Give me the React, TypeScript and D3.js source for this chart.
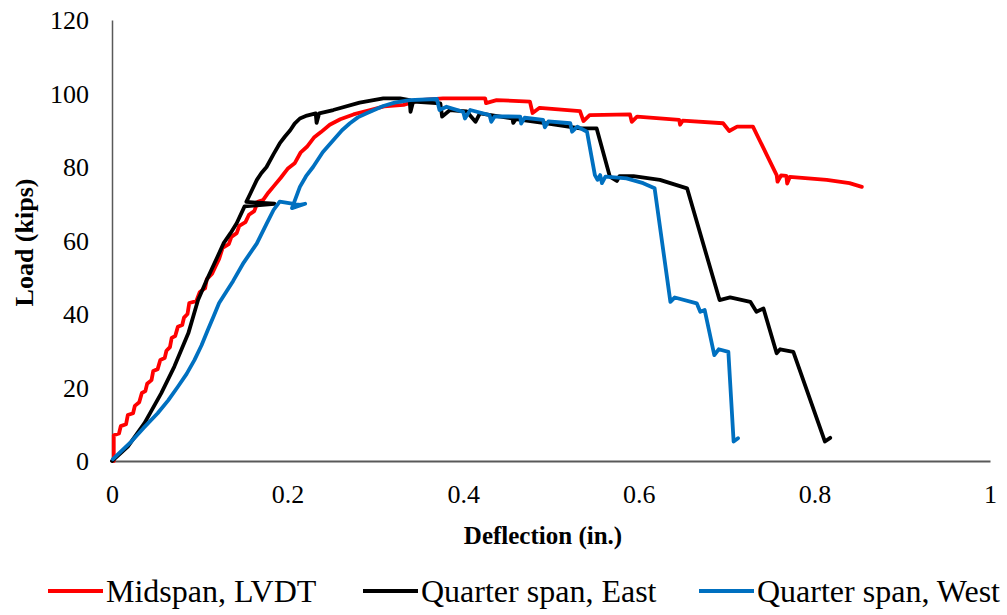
import React, { useEffect, useRef } from 'react';
import * as d3 from 'd3';

type Pt = [number, number];

const seriesNames = ['Midspan, LVDT', 'Quarter span, East', 'Quarter span, West'];
const seriesColors = ['#FF0000', '#000000', '#0070C0'];

const xTicks = [0, 0.2, 0.4, 0.6, 0.8, 1];
const yTicks = [0, 20, 40, 60, 80, 100, 120];

// Midspan LVDT (deflection in., load kips)
const midspan: Pt[] = [
  [0.002, 0], [0.002, 7], [0.008, 7.5], [0.01, 9.5], [0.016, 10], [0.018, 12.5], [0.024, 13],
  [0.026, 15], [0.031, 16], [0.034, 18.5], [0.038, 19], [0.04, 21], [0.045, 22], [0.047, 24.5],
  [0.052, 25], [0.055, 27.5], [0.06, 28], [0.062, 30], [0.066, 31], [0.068, 33.5], [0.072, 34],
  [0.075, 36.5], [0.08, 37], [0.082, 39], [0.086, 40], [0.088, 43], [0.096, 43.5], [0.1, 46],
  [0.106, 47], [0.108, 49.5], [0.114, 51], [0.118, 53], [0.122, 55], [0.126, 58], [0.133, 59],
  [0.136, 61], [0.142, 62], [0.145, 64], [0.152, 65], [0.156, 67], [0.162, 68], [0.166, 70.5],
  [0.172, 71], [0.178, 73], [0.185, 75], [0.192, 77], [0.2, 79.5], [0.208, 81], [0.215, 84],
  [0.222, 85.5], [0.23, 88], [0.238, 89.5], [0.248, 91.5], [0.26, 93], [0.275, 94.3],
  [0.294, 95.5], [0.31, 96.5], [0.332, 96.9], [0.35, 98.2], [0.377, 98.7], [0.425, 98.7],
  [0.426, 97.4], [0.438, 98.2], [0.476, 97.8], [0.479, 94.7], [0.487, 96.1], [0.533, 95.2],
  [0.537, 92.5], [0.544, 94.1], [0.59, 94.3], [0.592, 92.3], [0.598, 93.7], [0.646, 92.8],
  [0.647, 91.5], [0.65, 92.6], [0.696, 91.9], [0.703, 89.8], [0.712, 91], [0.73, 91],
  [0.757, 77.8], [0.758, 76], [0.762, 77.7], [0.768, 77.6], [0.769, 75.5], [0.772, 77.3],
  [0.814, 76.5], [0.84, 75.6], [0.854, 74.6],
];

const quarterEast: Pt[] = [
  [0, 0], [0.018, 3.9], [0.037, 10.3], [0.056, 18.4], [0.071, 25.7], [0.087, 34.8], [0.098, 43.8],
  [0.108, 49.3], [0.12, 55.5], [0.127, 59.2], [0.135, 62], [0.142, 64.7], [0.151, 69.3],
  [0.185, 70], [0.153, 70.5], [0.158, 73], [0.165, 76.5], [0.17, 78.3], [0.176, 80],
  [0.184, 83.5], [0.191, 86.4], [0.197, 88.3], [0.203, 90], [0.208, 91.8], [0.214, 93.2],
  [0.222, 94], [0.232, 94.6], [0.233, 92], [0.236, 94.6], [0.252, 95.5], [0.282, 97.5],
  [0.309, 98.7], [0.328, 98.7], [0.339, 98.2], [0.34, 95], [0.343, 97.8], [0.374, 97.3],
  [0.376, 93.7], [0.385, 95.5], [0.404, 95.1], [0.414, 92.3], [0.419, 94.6], [0.456, 93.2],
  [0.457, 92], [0.46, 93], [0.495, 91.9], [0.533, 90.5], [0.552, 90.5], [0.567, 77.4],
  [0.575, 76.2], [0.578, 77.5], [0.594, 77.5], [0.624, 76.5], [0.655, 74.2], [0.692, 43.8],
  [0.704, 44.5], [0.727, 43.3], [0.734, 40.6], [0.742, 41.5], [0.757, 29.3], [0.761, 30.4],
  [0.776, 29.7], [0.812, 5.3], [0.818, 6.3],
];

const quarterWest: Pt[] = [
  [0.001, 0.5], [0.022, 5.3], [0.036, 9], [0.052, 13], [0.064, 16.5], [0.075, 20.2],
  [0.085, 23.7], [0.094, 27.5], [0.102, 31.5], [0.109, 35.6], [0.116, 39.5], [0.122, 43],
  [0.13, 46], [0.138, 49], [0.15, 54], [0.165, 59.2], [0.176, 64.5], [0.184, 68.3],
  [0.191, 70.6], [0.214, 69.7], [0.22, 70], [0.205, 68.8], [0.214, 74.6], [0.221, 77.5],
  [0.229, 80], [0.24, 84], [0.252, 87.3], [0.262, 90], [0.271, 91.9], [0.28, 93.5],
  [0.29, 94.6], [0.309, 96.6], [0.322, 97.5], [0.339, 98.2], [0.37, 98.5], [0.373, 95.5],
  [0.381, 96.4], [0.4, 95], [0.402, 93.2], [0.408, 95.5], [0.43, 94.1], [0.432, 92.3],
  [0.436, 93.8], [0.465, 93.7], [0.466, 91.8], [0.47, 93.4], [0.491, 92.8], [0.493, 90.8],
  [0.497, 92.4], [0.522, 91.9], [0.524, 89.6], [0.53, 91], [0.541, 89.6], [0.55, 77.8],
  [0.553, 76.5], [0.556, 77.8], [0.558, 75.6], [0.562, 77.4], [0.586, 76.9], [0.605, 75.6],
  [0.618, 74.2], [0.636, 43.3], [0.641, 44.5], [0.666, 42.9], [0.67, 40.6], [0.675, 41.1],
  [0.686, 28.8], [0.691, 30.4], [0.702, 29.7], [0.708, 5.3], [0.713, 6.2],
];

const allSeries = [midspan, quarterEast, quarterWest];

const FONT = "'Liberation Serif', 'Times New Roman', serif";

const App: React.FC = () => {
  const svgRef = useRef<SVGSVGElement>(null);

  useEffect(() => {
    if (!svgRef.current) return;
    const width = 1007;
    const height = 615;
    const margin = { top: 20, right: 17, bottom: 154, left: 112 };
    const innerWidth = width - margin.left - margin.right;
    const innerHeight = height - margin.top - margin.bottom;

    const svg = d3.select(svgRef.current);
    svg.selectAll('*').remove();

    const g = svg.append('g').attr('transform', `translate(${margin.left},${margin.top})`);

    const x = d3.scaleLinear().domain([0, 1]).range([0, innerWidth]);
    const y = d3.scaleLinear().domain([0, 120]).range([innerHeight, 0]);

    // axes
    const xAxis = g
      .append('g')
      .attr('transform', `translate(0,${innerHeight})`)
      .call(
        d3
          .axisBottom(x)
          .tickValues(xTicks)
          .tickSize(0)
          .tickPadding(24)
          .tickFormat((d) => d3.format('')(+d)),
      );
    xAxis.select('.domain').attr('stroke', '#595959').attr('stroke-width', 2);
    xAxis.selectAll('text').style('font-family', FONT).style('font-size', '26px').attr('fill', '#000');

    const yAxis = g
      .append('g')
      .call(d3.axisLeft(y).tickValues(yTicks).tickSize(0).tickPadding(23));
    yAxis.select('.domain').attr('stroke', '#595959').attr('stroke-width', 1.5);
    yAxis
      .selectAll('text')
      .style('font-family', FONT)
      .style('font-size', '26px')
      .attr('fill', '#000')
      .attr('dy', '0.34em');

    // axis titles
    svg
      .append('text')
      .attr('x', margin.left + x(0.5) - 8)
      .attr('y', 544)
      .attr('text-anchor', 'middle')
      .style('font-family', FONT)
      .style('font-size', '25px')
      .style('font-weight', 'bold')
      .text('Deflection (in.)');

    svg
      .append('text')
      .attr('transform', `translate(33,${margin.top + y(60) + 2}) rotate(-90)`)
      .attr('text-anchor', 'middle')
      .style('font-family', FONT)
      .style('font-size', '26px')
      .style('font-weight', 'bold')
      .text('Load (kips)');

    // series
    const line = d3
      .line<Pt>()
      .x((d) => x(d[0]))
      .y((d) => y(d[1]))
      .curve(d3.curveLinear);

    allSeries.forEach((s, i) => {
      g.append('path')
        .datum(s)
        .attr('d', line)
        .attr('fill', 'none')
        .attr('stroke', seriesColors[i])
        .attr('stroke-width', 3.8)
        .attr('stroke-linejoin', 'round')
        .attr('stroke-linecap', 'round');
    });

    // legend
    const legendX = [48, 363, 699];
    const legendY = 591;
    seriesNames.forEach((name, i) => {
      const item = svg.append('g').attr('transform', `translate(${legendX[i]},${legendY})`);
      item
        .append('line')
        .attr('x1', 0)
        .attr('x2', 55)
        .attr('y1', 0)
        .attr('y2', 0)
        .attr('stroke', seriesColors[i])
        .attr('stroke-width', 4);
      item
        .append('text')
        .attr('x', 58)
        .attr('y', 11)
        .style('font-family', FONT)
        .style('font-size', '32px')
        .text(name);
    });
  }, []);

  return (
    <svg
      ref={svgRef}
      width={1007}
      height={615}
      style={{ position: 'absolute', left: 0, top: 0, background: '#fff' }}
    />
  );
};

export default App;
